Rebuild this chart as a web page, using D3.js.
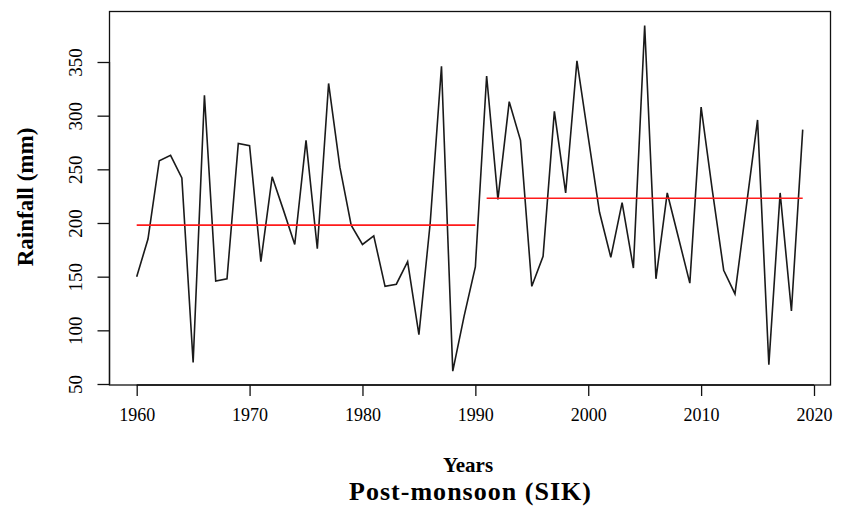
<!DOCTYPE html>
<html>
<head>
<meta charset="utf-8">
<script src="https://cdn.jsdelivr.net/npm/d3@7"></script>
<style>
  body { margin: 0; background: #fff; }
  text { font-family: "Liberation Serif", "Times New Roman", serif; fill: #000; }
</style>
</head>
<body>
<div id="chart"></div>
<script>
// yearly post-monsoon rainfall (mm), 1960-2019
let years = d3.range(1960, 2020);
let rainfall = [
    150, 185, 258, 263, 242, 70, 319, 146, 148, 274,
    272, 164, 243, 212, 180, 277, 176, 330, 252, 198,
    180, 188, 141, 143, 164, 96, 200, 346, 62, 113,
    159, 337, 222, 313, 277, 141, 169, 304, 228, 351,
    280, 210, 168, 219, 158, 384, 148, 228, 186, 144,
    308, 230, 156, 134, 215, 296, 68, 228, 118, 287
];

// mean of each period (red segments)
let periods = [
    { start: 1960, end: 1990, mean: 198 },
    { start: 1991, end: 2019, mean: 223 }
];

let xTicks = [1960, 1970, 1980, 1990, 2000, 2010, 2020];
let yTicks = [50, 100, 150, 200, 250, 300, 350];

let width = 845, height = 507;
let box = { left: 109.5, right: 830.5, top: 11.5, bottom: 385 };

let svg = d3.select("#chart").append("svg")
    .attr("width", width)
    .attr("height", height);

let x = d3.scaleLinear().domain([1960, 2020]).range([136.7, 814]);
let y = d3.scaleLinear().domain([50, 350]).range([384, 62]);

// plot frame
svg.append("rect")
    .attr("x", box.left)
    .attr("y", box.top)
    .attr("width", box.right - box.left)
    .attr("height", box.bottom - box.top)
    .attr("fill", "none")
    .attr("stroke", "#111")
    .attr("stroke-width", 1.3);

// x axis
let xAxis = svg.append("g")
    .attr("transform", "translate(0," + box.bottom + ")")
    .call(d3.axisBottom(x).tickValues(xTicks).tickFormat(d3.format("d")).tickSize(11).tickPadding(25));
xAxis.select(".domain")
    .attr("d", "M" + x(1960) + ",0H" + x(2020))
    .attr("stroke", "#111").attr("stroke-width", 1.3);
xAxis.selectAll(".tick line").attr("stroke", "#111").attr("stroke-width", 1.3);
xAxis.selectAll(".tick text")
    .attr("font-size", 18)
    .attr("dy", 0)
    .style("font-family", "'Liberation Serif', serif")
    .attr("fill", "#000");

// y axis
let yAxis = svg.append("g")
    .attr("transform", "translate(" + box.left + ",0)")
    .call(d3.axisLeft(y).tickValues(yTicks).tickSize(12).tickFormat(d3.format("d")));
yAxis.select(".domain")
    .attr("d", "M0," + y(50) + "V" + y(350))
    .attr("stroke", "#111").attr("stroke-width", 1.3);
yAxis.selectAll(".tick line").attr("stroke", "#111").attr("stroke-width", 1.3);
yAxis.selectAll(".tick text")
    .attr("x", 0).attr("y", 0).attr("dy", 0)
    .attr("transform", "translate(-28,0) rotate(-90)")
    .attr("text-anchor", "middle")
    .attr("font-size", 19)
    .style("font-family", "'Liberation Serif', serif")
    .attr("fill", "#000");

// rainfall series
let line = d3.line()
    .x((d, i) => x(years[i]))
    .y(d => y(d));

svg.append("path")
    .datum(rainfall)
    .attr("d", line)
    .attr("fill", "none")
    .attr("stroke", "#1a1a1a")
    .attr("stroke-width", 1.6)
    .attr("stroke-linejoin", "miter");

// period means
svg.selectAll(".mean")
    .data(periods)
    .enter().append("line")
    .attr("class", "mean")
    .attr("x1", d => x(d.start))
    .attr("x2", d => x(d.end))
    .attr("y1", d => y(d.mean))
    .attr("y2", d => y(d.mean))
    .attr("stroke", "#ff1a1a")
    .attr("stroke-width", 1.6);

// labels
svg.append("text")
    .attr("transform", "translate(33,197) rotate(-90)")
    .attr("text-anchor", "middle")
    .attr("font-size", 23)
    .attr("font-weight", "bold")
    .text("Rainfall (mm)");

svg.append("text")
    .attr("x", 468)
    .attr("y", 472)
    .attr("text-anchor", "middle")
    .attr("font-size", 21)
    .attr("font-weight", "bold")
    .text("Years");

svg.append("text")
    .attr("x", 470)
    .attr("y", 500)
    .attr("text-anchor", "middle")
    .attr("font-size", 26)
    .attr("font-weight", "bold")
    .attr("textLength", 242)
    .text("Post-monsoon (SIK)");
</script>
</body>
</html>
